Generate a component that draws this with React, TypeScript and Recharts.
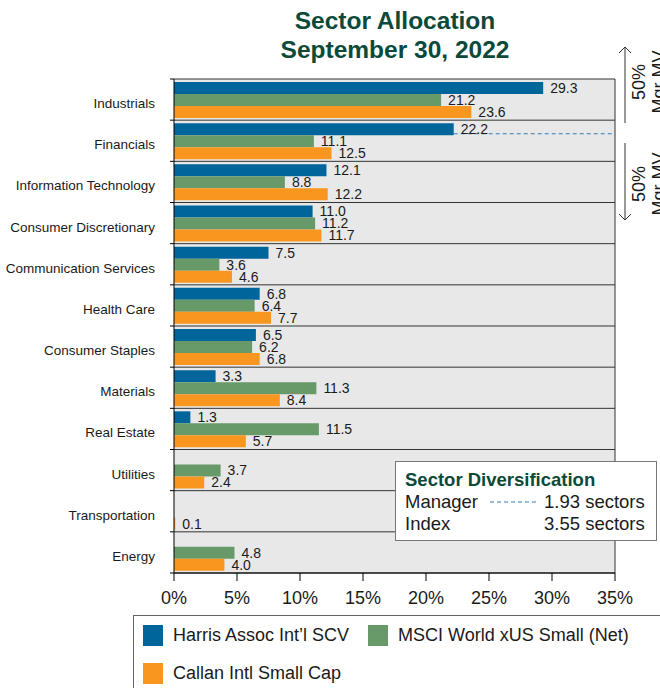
// Sector allocation: manager vs index vs peer group, horizontal grouped bars.
import { BarChart, Bar, XAxis, YAxis, CartesianGrid, LabelList, ReferenceLine } from "recharts";

const sectors = [
  "Industrials",
  "Financials",
  "Information Technology",
  "Consumer Discretionary",
  "Communication Services",
  "Health Care",
  "Consumer Staples",
  "Materials",
  "Real Estate",
  "Utilities",
  "Transportation",
  "Energy",
];
const managerWeights = [29.3, 22.2, 12.1, 11.0, 7.5, 6.8, 6.5, 3.3, 1.3, null, null, null];
const indexWeights = [21.2, 11.1, 8.8, 11.2, 3.6, 6.4, 6.2, 11.3, 11.5, 3.7, null, 4.8];
const peerWeights = [23.6, 12.5, 12.2, 11.7, 4.6, 7.7, 6.8, 8.4, 5.7, 2.4, 0.1, 4.0];
const seriesNames = ["Harris Assoc Int\u2019l SCV", "MSCI World xUS Small (Net)", "Callan Intl Small Cap"];
const seriesColors = ["#00659a", "#679a68", "#f8961f"];
const xTicks = [0, 5, 10, 15, 20, 25, 30, 35];
const managerSectors = "1.93 sectors";
const indexSectors = "3.55 sectors";

const FONT = '"Liberation Sans", Arial, Helvetica, sans-serif';
const GREEN_TEXT = "#0b4a39";
const W = 660, H = 688;
const M = { top: 79, right: 45, bottom: 75, left: 0 };
const Y_W = 174, X_H = 40;
const PLOT_LEFT = M.left + Y_W;
const PLOT_H = H - M.top - M.bottom - X_H;
const BAND = PLOT_H / sectors.length;

const data = sectors.map((s, i) => ({
  sector: s,
  manager: managerWeights[i],
  index: indexWeights[i],
  peer: peerWeights[i],
}));

// first sector where the manager's cumulative weight passes 50%
let cum = 0;
const halfIdx = managerWeights.findIndex((v) => (cum += v ?? 0) >= 50);

const fmt = (v: any) => (v == null ? "" : Number(v).toFixed(1));

const SectorTick = (props: any) => {
  const { y, payload, index } = props;
  const h = BAND / 2;
  return (
    <g>
      <text x={PLOT_LEFT - 19} y={y + 4} textAnchor="end" dominantBaseline="central" fontSize={13.5} fill="#1a1a1a" fontFamily={FONT}>
        {payload.value}
      </text>
      <line x1={PLOT_LEFT - 4} x2={PLOT_LEFT} y1={y - h} y2={y - h} stroke="#000" />
      {index === sectors.length - 1 && <line x1={PLOT_LEFT - 4} x2={PLOT_LEFT} y1={y + h} y2={y + h} stroke="#000" />}
    </g>
  );
};

const Arrow = ({ y1, y2, up }: { y1: number; y2: number; up: boolean }) => {
  const tip = up ? y1 : y2;
  const d = up ? 6 : -6;
  return (
    <g stroke="#333" strokeWidth={1} fill="none">
      <line x1={625} x2={625} y1={y1} y2={y2} />
      <polyline points={`619,${tip + d} 625,${tip} 631,${tip + d}`} />
    </g>
  );
};

const MvText = ({ cy }: { cy: number }) => (
  <text transform={`translate(649 ${cy}) rotate(-90)`} textAnchor="middle" fontSize={18} fill="#1a1a1a" fontFamily={FONT}>
    <tspan x={0} dy={-4}>50%</tspan>
    <tspan x={0} dy={20}>Mgr MV</tspan>
  </text>
);

export default function App() {
  const keys = ["manager", "index", "peer"];
  return (
    <div style={{ position: "absolute", left: 0, top: 0, width: W, height: H, overflow: "hidden", background: "#fff", fontFamily: FONT }}>
      <div style={{ position: "absolute", left: 145, top: 6, width: 500, textAlign: "center", fontSize: 24.5, lineHeight: "29px", fontWeight: "bold", color: GREEN_TEXT }}>
        Sector Allocation
        <br />
        September 30, 2022
      </div>

      <BarChart width={W} height={H} data={data} layout="vertical" margin={M} barGap={0} barCategoryGap={0}>
        <CartesianGrid
          fill="#e8e8e8"
          fillOpacity={1}
          stroke="#333"
          horizontalCoordinatesGenerator={() => sectors.map((_, i) => M.top + i * BAND).concat([M.top + PLOT_H])}
          verticalCoordinatesGenerator={() => [W - M.right]}
        />
        <XAxis
          type="number"
          domain={[0, 35]}
          ticks={xTicks}
          height={X_H}
          tickFormatter={(v) => `${v}%`}
          tick={{ fontSize: 18, fill: "#1a1a1a", fontFamily: FONT }}
          tickSize={8}
          tickMargin={10}
          axisLine={{ stroke: "#000" }}
          tickLine={{ stroke: "#000" }}
          allowDataOverflow
        />
        <YAxis
          type="category"
          dataKey="sector"
          width={Y_W}
          axisLine={{ stroke: "#000" }}
          tickLine={false}
          tick={<SectorTick />}
          interval={0}
        />
        {keys.map((k, i) => (
          <Bar key={k} dataKey={k} name={seriesNames[i]} fill={seriesColors[i]} barSize={12} isAnimationActive={false}>
            <LabelList dataKey={k} position="right" offset={7} formatter={fmt} fontSize={14} fill="#1a1a1a" fontFamily={FONT} />
          </Bar>
        ))}
        <ReferenceLine
          segment={[
            { x: managerWeights[halfIdx] as number, y: sectors[halfIdx] },
            { x: xTicks[xTicks.length - 1], y: sectors[halfIdx] },
          ]}
          ifOverflow="visible"
          shape={(p: any) => (
            <line x1={p.x1} y1={p.y1 - 7} x2={p.x2} y2={p.y2 - 7} stroke="#2f7fb6" strokeWidth={1} strokeDasharray="4 3" />
          )}
        />
      </BarChart>

      <svg style={{ position: "absolute", left: 0, top: 0 }} width={W} height={H} pointerEvents="none">
        <Arrow y1={47} y2={123} up />
        <Arrow y1={143} y2={220} up={false} />
        <MvText cy={82} />
        <MvText cy={184} />
      </svg>

      <div style={{ position: "absolute", left: 395, top: 461, width: 262, height: 80, boxSizing: "border-box", background: "#fff", border: "1px solid #777" }}>
        <div style={{ position: "absolute", left: 9, top: 7, fontSize: 18.5, fontWeight: "bold", color: GREEN_TEXT, whiteSpace: "nowrap" }}>Sector Diversification</div>
        <div style={{ position: "absolute", left: 9, top: 29, fontSize: 18.5, color: "#1a1a1a" }}>Manager</div>
        <svg style={{ position: "absolute", left: 94, top: 38 }} width={46} height={4}>
          <line x1={0} x2={46} y1={2} y2={2} stroke="#2f7fb6" strokeDasharray="4 3" />
        </svg>
        <div style={{ position: "absolute", left: 148, top: 29, fontSize: 18.5, color: "#1a1a1a", whiteSpace: "nowrap" }}>{managerSectors}</div>
        <div style={{ position: "absolute", left: 9, top: 51, fontSize: 18.5, color: "#1a1a1a" }}>Index</div>
        <div style={{ position: "absolute", left: 148, top: 51, fontSize: 18.5, color: "#1a1a1a", whiteSpace: "nowrap" }}>{indexSectors}</div>
      </div>

      <div style={{ position: "absolute", left: 133, top: 615, width: 560, height: 90, boxSizing: "border-box", background: "#fff", border: "1px solid #666" }}>
        {seriesNames.map((n, i) => {
          const left = i === 1 ? 234 : 9;
          const top = i === 2 ? 47 : 9;
          return (
            <div key={n} style={{ position: "absolute", left, top, display: "flex", alignItems: "center", whiteSpace: "nowrap" }}>
              <span style={{ display: "inline-block", width: 20, height: 21, background: seriesColors[i], marginRight: 10 }} />
              <span style={{ fontSize: 18, color: "#1a1a1a" }}>{n}</span>
            </div>
          );
        })}
      </div>
    </div>
  );
}
